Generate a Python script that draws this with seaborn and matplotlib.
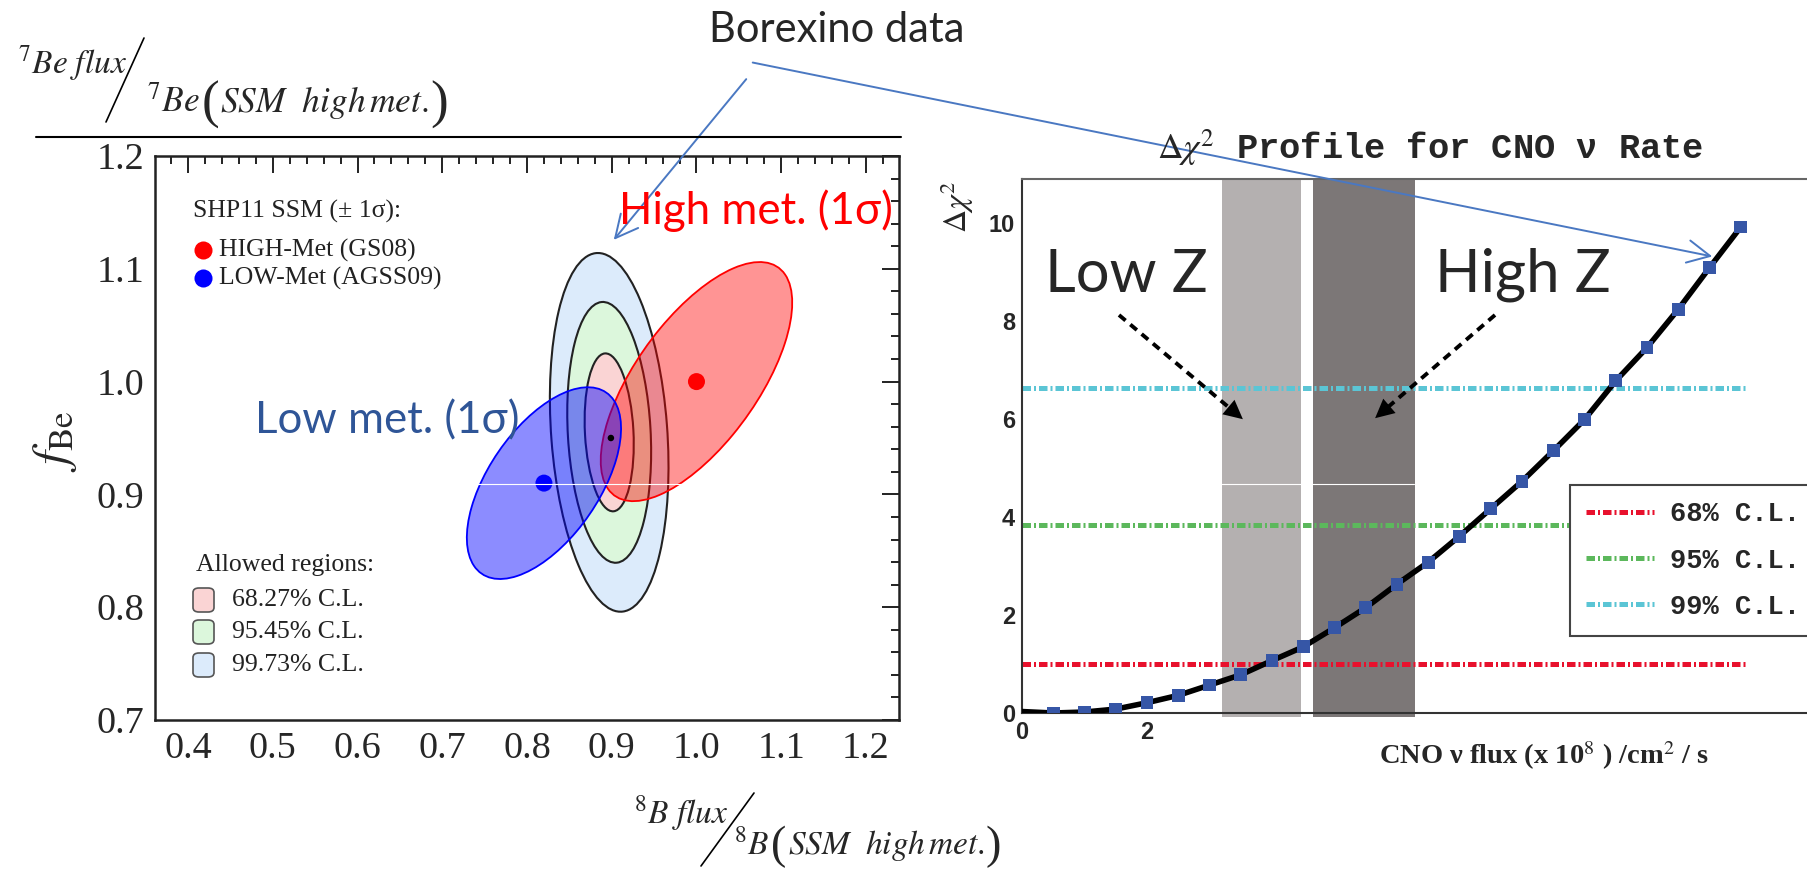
import numpy as np
import matplotlib
matplotlib.use("Agg")
import matplotlib.pyplot as plt
import seaborn as sns
from matplotlib.patches import Ellipse, FancyArrowPatch, FancyBboxPatch
from matplotlib.lines import Line2D
from matplotlib.ticker import MultipleLocator

# ---------------- left panel: 8B flux vs 7Be flux ----------------
ssm_models = ["HIGH-Met (GS08)", "LOW-Met (AGSS09)"]
ssm_b8 = [1.00, 0.82]
ssm_be7 = [1.00, 0.91]
ssm_err_b8 = [0.113, 0.091]
ssm_err_be7 = [0.106, 0.085]
ssm_corr = [0.66, 0.57]
ssm_colors = ["#ff0000", "#0000ff"]

region_labels = ["68.27% C.L.", "95.45% C.L.", "99.73% C.L."]
region_half_b8 = [0.029, 0.0495, 0.070]
region_half_be7 = [0.070, 0.1156, 0.159]
region_corr = [-0.15, -0.15, -0.19]
region_fill = ["#fad4d4", "#dcf7dc", "#dcebfb"]
region_center = [0.897, 0.955]
borexino_best = [0.899, 0.950]

# ---------------- right panel: delta chi2 profile for CNO ----------------
cno_flux = [0.0, 0.5, 1.0, 1.5, 2.0, 2.5, 3.0, 3.5, 4.0, 4.5, 5.0, 5.5,
            6.0, 6.5, 7.0, 7.5, 8.0, 8.5, 9.0, 9.5, 10.0, 10.5, 11.0, 11.5]
delta_chi2 = [0.03, 0.00, 0.02, 0.08, 0.21, 0.36, 0.57, 0.78, 1.07, 1.35, 1.74, 2.15,
              2.63, 3.08, 3.61, 4.17, 4.73, 5.35, 5.99, 6.78, 7.46, 8.24, 9.09, 9.92]
cl_labels = ["68% C.L.", "95% C.L.", "99% C.L."]
cl_levels = [1.0, 3.84, 6.63]
cl_colors = ["#e8112d", "#5cb85c", "#5bc5d5"]
lowz_band = [3.2, 4.46]
highz_band = [4.65, 6.28]

# ---------------- style ----------------
sns.set_style("white")
plt.rcParams["font.family"] = ["Liberation Serif", "DejaVu Serif"]
plt.rcParams["mathtext.fontset"] = "stix"
SANS = ["Lato", "Noto Sans", "DejaVu Sans"]

W, H = 1807, 871
fig = plt.figure(figsize=(W / 100, H / 100), dpi=100)
fig.patch.set_facecolor("white")
renderer = fig.canvas.get_renderer()


def fx(x):
    return x / W


def fy(y):
    return 1 - y / H


def ellipse_from(cx, cy, hx, hy, rho, **kw):
    cov = np.array([[hx ** 2, rho * hx * hy], [rho * hx * hy, hy ** 2]])
    vals, vecs = np.linalg.eigh(cov)
    ang = np.degrees(np.arctan2(vecs[1, 1], vecs[0, 1]))
    return Ellipse((cx, cy), 2 * np.sqrt(vals[1]), 2 * np.sqrt(vals[0]), angle=ang, **kw)


# ================= left axes =================
axL = fig.add_axes([fx(155), fy(720), (899 - 155) / W, (720 - 156) / H])
axL.set_xlim(0.361, 1.239)
axL.set_ylim(0.7, 1.2)

for i in reversed(range(3)):
    axL.add_patch(ellipse_from(region_center[0], region_center[1], region_half_b8[i],
                               region_half_be7[i], region_corr[i], facecolor=region_fill[i],
                               edgecolor="#222222", lw=1.5, zorder=2))

ssm_alpha = [0.42, 0.45]
for i in range(2):
    axL.add_patch(ellipse_from(ssm_b8[i], ssm_be7[i], ssm_err_b8[i], ssm_err_be7[i], ssm_corr[i],
                               facecolor=ssm_colors[i], alpha=ssm_alpha[i], edgecolor="none",
                               zorder=3 + i))
    axL.add_patch(ellipse_from(ssm_b8[i], ssm_be7[i], ssm_err_b8[i], ssm_err_be7[i], ssm_corr[i],
                               facecolor="none", edgecolor=ssm_colors[i], lw=1.3, zorder=3 + i))

sns.scatterplot(x=ssm_b8, y=ssm_be7, hue=ssm_models, palette=ssm_colors, s=150,
                edgecolor="none", legend=False, ax=axL, zorder=6)
sns.scatterplot(x=[borexino_best[0]], y=[borexino_best[1]], color="black", s=22,
                edgecolor="none", legend=False, ax=axL, zorder=6)

axL.xaxis.set_minor_locator(MultipleLocator(0.02))
axL.yaxis.set_minor_locator(MultipleLocator(0.02))
axL.tick_params(which="both", direction="in", top=True, right=True, width=1.4, color="#222222")
axL.tick_params(which="major", length=12, labelsize=27.5, pad=8)
axL.tick_params(which="minor", length=6)
x_major = np.round(np.arange(0.4, 1.21, 0.1), 1)
y_major = np.round(np.arange(0.7, 1.21, 0.1), 1)
axL.set_xticks(x_major)
axL.set_xticklabels([f"{v:.1f}" for v in x_major])
axL.set_yticks(y_major)
axL.set_yticklabels([f"{v:.1f}" for v in y_major])
axL.set_xlim(0.361, 1.239)
axL.set_ylim(0.7, 1.2)
for sp in axL.spines.values():
    sp.set_linewidth(1.8)
    sp.set_color("#222222")


def axfrac(x, y):
    return ((x - 155) / 744, (720 - y) / 564)


# in-plot legend of the left panel
LEG_FS = 18.5
axL.text(*axfrac(193, 211), "SHP11 SSM (± 1σ):", transform=axL.transAxes, fontsize=LEG_FS,
         va="center", ha="left", color="#222222")
for i, yy in enumerate([250, 278]):
    axL.plot(*axfrac(203, yy), marker="o", ms=13, color=ssm_colors[i], mec="none",
             transform=axL.transAxes, clip_on=False)
    axL.text(*axfrac(219, yy), ssm_models[i], transform=axL.transAxes, fontsize=LEG_FS,
             va="center", ha="left", color="#222222")
axL.text(*axfrac(196, 565), "Allowed regions:", transform=axL.transAxes, fontsize=LEG_FS,
         va="center", ha="left", color="#222222")
for i, yy in enumerate([600, 632, 665]):
    x0, y0 = axfrac(193, yy + 12)
    x1, y1 = axfrac(214, yy - 12)
    axL.add_patch(FancyBboxPatch((x0, y0), x1 - x0, y1 - y0,
                                 boxstyle="round,pad=0,rounding_size=0.008",
                                 transform=axL.transAxes, facecolor=region_fill[i],
                                 edgecolor="#555555", lw=1.2, clip_on=False))
    axL.text(*axfrac(232, yy), region_labels[i], transform=axL.transAxes, fontsize=LEG_FS,
             va="center", ha="left", color="#222222")

# ================= right axes =================
axR = fig.add_axes([fx(1022), fy(713), (W - 1022) / W, (713 - 179) / H])
xmax_r = (W - 1022) / 62.5
axR.set_xlim(0, xmax_r)
axR.set_ylim(0, 10.9)

axR.axvspan(lowz_band[0], lowz_band[1], ymin=-0.008, ymax=1, color="#b4b0b0", lw=0,
            zorder=1, clip_on=False)
axR.axvspan(highz_band[0], highz_band[1], ymin=-0.008, ymax=1, color="#7c7777", lw=0,
            zorder=1, clip_on=False)

cl_handles = []
for lvl, col, lab in zip(cl_levels, cl_colors, cl_labels):
    ln = axR.axhline(lvl, xmin=0, xmax=(cno_flux[-1] + 0.1) / xmax_r, color=col, lw=3.6,
                     dashes=(1.7, 0.6, 0.4, 0.6), zorder=2, label=lab)
    cl_handles.append(ln)

sns.lineplot(x=cno_flux, y=delta_chi2, color="black", lw=4, ax=axR, zorder=3)
sns.scatterplot(x=cno_flux[1:], y=delta_chi2[1:], marker="s", s=85, color="#3656a6",
                edgecolor="none", ax=axR, zorder=4, legend=False)

axR.set_xticks(range(0, 13, 2))
axR.set_xticklabels(["0", "2", "", "", "", "", ""])
axR.xaxis.set_minor_locator(MultipleLocator(0.5))
axR.set_yticks(range(0, 11, 2))
axR.set_yticklabels([str(v) for v in range(0, 11, 2)])
axR.yaxis.set_minor_locator(MultipleLocator(0.5))
axR.set_xlim(0, xmax_r)
axR.set_ylim(0, 10.9)
axR.tick_params(which="both", direction="in", width=1.3, color="#333333")
axR.tick_params(axis="y", which="major", length=15, pad=5)
axR.tick_params(axis="y", which="minor", length=7)
axR.tick_params(axis="x", which="major", length=12, pad=6)
axR.tick_params(axis="x", which="minor", length=6)
for lab in axR.get_xticklabels() + axR.get_yticklabels():
    lab.set_fontfamily(["Liberation Sans", "DejaVu Sans"])
    lab.set_fontweight("bold")
    lab.set_fontsize(17)
axR.spines["right"].set_visible(False)
axR.spines["left"].set_color("#333333")
axR.spines["bottom"].set_color("#333333")
axR.spines["top"].set_color("#666666")
for sp in axR.spines.values():
    sp.set_linewidth(1.5)

leg = axR.legend(handles=cl_handles, labels=cl_labels, loc="upper left",
                 bbox_to_anchor=(fx(1570), fy(485)), bbox_transform=fig.transFigure,
                 borderaxespad=0,
                 prop={"family": "Liberation Mono", "weight": "bold", "size": 19.5},
                 handlelength=2.5, labelspacing=0.75, borderpad=0.6, handletextpad=0.6,
                 fancybox=False, framealpha=1, edgecolor="#444444")
leg.get_frame().set_linewidth(1.5)

# ================= texts and annotations =================
fig.text(fx(1430), fy(148), r"$\Delta\chi^{2}$ Profile for CNO ν Rate",
         family=["Liberation Mono", "DejaVu Sans Mono"], weight="bold", size=25.5,
         ha="center", va="center")
fig.text(fx(957), fy(207), r"$\Delta\chi^{2}$", rotation=90, size=23, ha="center", va="center")
fig.text(fx(1379), fy(756), r"CNO ν flux (x 10$^{8}$ ) /cm$^{2}$ / s", weight="bold",
         size=20.5, ha="left", va="center")

fig.text(fx(1045), fy(292), "Low Z", family=SANS, size=43, ha="left", va="baseline")
fig.text(fx(1435), fy(292), "High Z", family=SANS, size=43, ha="left", va="baseline")


def dashed_arrow(p0, p1):
    (x0, y0), (x1, y1) = p0, p1
    d = np.hypot(x1 - x0, y1 - y0)
    ux, uy = (x1 - x0) / d, (y1 - y0) / d
    xb, yb = x1 - ux * 12, y1 - uy * 12
    fig.add_artist(Line2D([fx(x0), fx(xb)], [fy(y0), fy(yb)], color="black", lw=2.8,
                          ls=(0, (2.2, 1.6)), transform=fig.transFigure))
    fig.add_artist(FancyArrowPatch((fx(xb - ux * 4), fy(yb - uy * 4)), (fx(x1), fy(y1)),
                                   arrowstyle="-|>,head_length=0.8,head_width=0.4",
                                   mutation_scale=17, color="black", lw=0,
                                   transform=fig.transFigure))


dashed_arrow((1119, 315), (1245, 421))
dashed_arrow((1495, 315), (1373, 420))

fig.text(fx(709), fy(30), "Borexino data", family=SANS, size=30, ha="left", va="center")
for start, end in [((748, 77), (612, 242)), ((750, 62), (1715, 257))]:
    fig.add_artist(FancyArrowPatch((fx(start[0]), fy(start[1])), (fx(end[0]), fy(end[1])),
                                   arrowstyle="->,head_length=0.9,head_width=0.45",
                                   mutation_scale=18, color="#4a78c2", lw=1.4,
                                   transform=fig.transFigure))

fig.text(fx(619), fy(211), "High met. (1σ)", family=SANS, size=31.5, color="#ff0000",
         ha="left", va="center")
fig.text(fx(255), fy(421), "Low met. (1σ)", family=SANS, size=31.5, color="#2f5597",
         ha="left", va="center")

# axis titles of the left panel
fig.text(fx(55), fy(441), r"$f_{\mathrm{Be}}$", rotation=90, size=36, ha="center", va="center")


def ratio_label(x_num, y_num, num, slash, x_den, y_den, iso, size=24, den_size=25.5,
                paren=1.5, drop=6):
    """Isotope flux over its SSM prediction, drawn as 'num / den' with big parentheses."""
    fig.text(fx(x_num), fy(y_num), num, size=size, ha="left", va="baseline")
    fig.add_artist(Line2D([fx(slash[0]), fx(slash[2])], [fy(slash[1]), fy(slash[3])],
                          color="black", lw=1.2, transform=fig.transFigure))
    t = fig.text(fx(x_den), fy(y_den), iso, size=den_size, ha="left", va="baseline")
    x = t.get_window_extent(renderer).x1 + 2
    t = fig.text(x / W, fy(y_den + drop), "(", size=den_size * paren, ha="left", va="baseline")
    x = t.get_window_extent(renderer).x1 + 1
    t = fig.text(x / W, fy(y_den), r"$SSM\ \ high\,met.$", size=den_size, ha="left",
                 va="baseline")
    x = t.get_window_extent(renderer).x1 + 1
    fig.text(x / W, fy(y_den + drop), ")", size=den_size * paren, ha="left", va="baseline")


ratio_label(18, 73, r"$^{7}Be\ flux$", (144, 38, 106, 122), 147, 112, r"$^{7}Be$")
fig.add_artist(Line2D([fx(36), fx(901)], [fy(137), fy(137)], color="black", lw=1.5,
                      transform=fig.transFigure))
ratio_label(634, 823, r"$^{8}B\ flux$", (754, 793, 701, 866), 734, 854, r"$^{8}B$",
            den_size=24, paren=1.38, drop=4)

# thin white scan line across the shaded areas
for xa, xb in [(470, 896), (1219, 1414)]:
    fig.add_artist(Line2D([fx(xa), fx(xb)], [fy(484), fy(484)], color="white", lw=0.8,
                          transform=fig.transFigure))

fig.savefig("out.png", dpi=100, facecolor="white")
